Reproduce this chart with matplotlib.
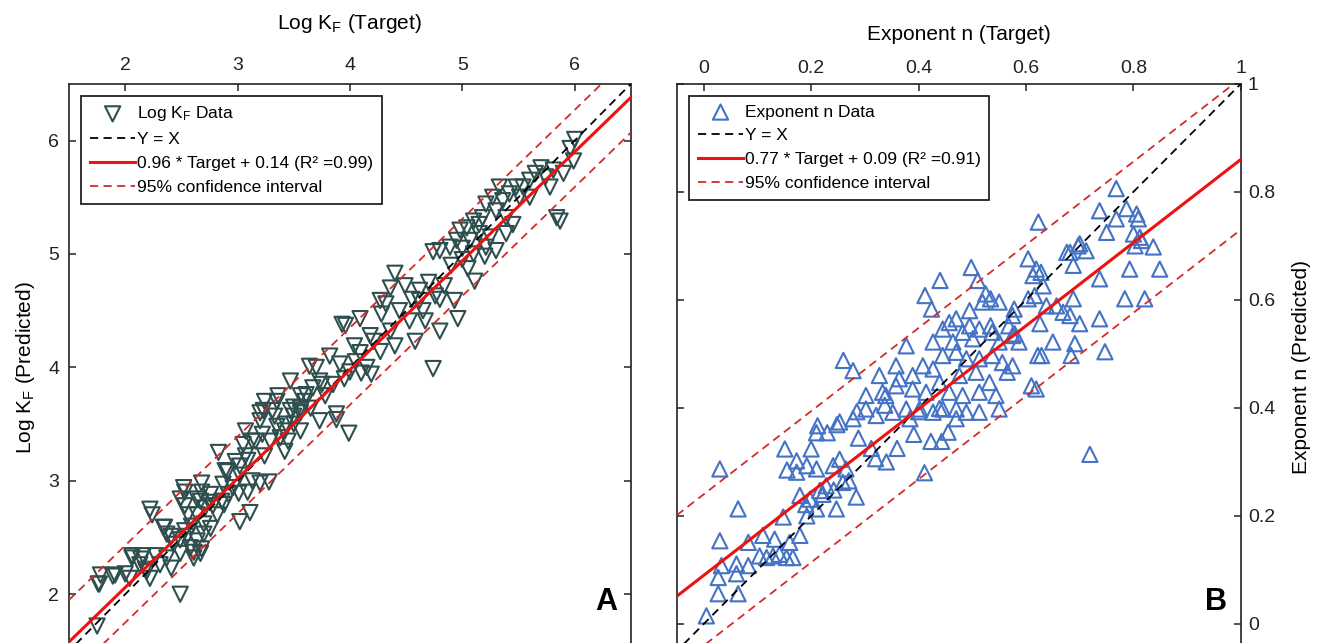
import numpy as np
import matplotlib.pyplot as plt

plt.rcParams['font.family'] = ['Liberation Sans', 'DejaVu Sans']
plt.rcParams['mathtext.fontset'] = 'custom'
plt.rcParams['mathtext.rm'] = 'Liberation Sans'
plt.rcParams['mathtext.it'] = 'Liberation Sans'

# ---- panel A : log KF (target, predicted) ----
kf_target = [1.75, 1.76, 1.78, 1.91, 2.04, 2.06, 2.16, 2.19, 2.27, 2.22, 2.13, 2.37, 2.41, 2.49, 2.22,
             2.24, 2.34, 2.37, 2.43, 2.41, 2.49, 2.49, 2.55, 2.58, 2.61, 2.67, 2.52, 2.53, 2.56, 2.64,
             2.64, 2.70, 2.71, 2.76, 2.78, 2.82, 2.86, 2.87, 2.92, 2.96, 3.02, 3.11, 2.70, 2.64, 2.31,
             3.99, 3.88, 3.73, 3.65, 3.56, 3.50, 3.43, 3.35, 3.31, 3.20, 3.22, 3.13, 3.05, 2.83, 3.09,
             2.98, 2.91, 3.02, 3.13, 3.20, 3.28, 3.09, 3.01, 2.75, 2.88, 2.68, 2.68, 2.59, 2.53, 2.35,
             2.49, 2.53, 2.67, 2.76, 2.61, 2.68, 2.06, 2.14, 2.18, 2.00, 1.89, 1.77,
             3.93, 3.70, 3.82, 3.91, 4.00, 3.67, 3.75, 3.36, 3.50, 3.23, 3.61, 3.56, 3.88, 4.21, 4.27,
             4.15, 4.19, 4.32, 4.36, 4.28, 4.09,
             6.00, 5.96, 5.99, 5.90, 5.81, 5.70, 5.65, 5.74, 5.78, 5.87, 5.84, 5.60, 5.54, 5.48, 5.51,
             5.42, 5.60, 5.36, 5.33, 5.27, 5.21, 5.30, 5.39, 5.45, 5.18, 5.15, 5.10, 5.04, 4.98, 4.95,
             5.07, 5.21, 5.30, 4.80, 4.74, 4.89, 5.39, 5.15,
             4.40, 4.49, 4.62, 4.76, 4.84, 4.93, 4.67, 4.53, 4.44, 4.36, 4.27, 4.18, 4.04, 4.40, 4.58,
             4.74, 4.80, 4.96, 5.05, 5.11, 4.62, 4.09, 3.96,
             3.33, 3.47, 3.60, 3.56, 3.42, 3.29, 3.16, 3.42, 3.24, 3.56, 3.73, 3.78, 3.07, 3.02, 2.89,
             3.20, 3.07, 3.24, 3.47, 3.64,
             5.00, 5.10, 5.20, 4.90, 5.25, 5.00, 4.55, 4.70, 4.65, 4.80, 3.85, 3.95, 4.05, 4.10, 3.38,
             3.50, 3.45, 3.35]
kf_pred = [1.72, 2.09, 2.17, 2.17, 2.14, 2.34, 2.34, 2.20, 2.34, 2.14, 2.26, 2.32, 2.23, 2.00, 2.75,
           2.70, 2.59, 2.53, 2.44, 2.51, 2.48, 2.36, 2.51, 2.41, 2.32, 2.36, 2.94, 2.78, 2.70, 2.84,
           2.70, 2.62, 2.76, 2.88, 2.78, 2.70, 2.82, 2.97, 2.88, 2.94, 2.64, 2.72, 2.53, 2.47, 2.26,
           3.42, 3.54, 3.53, 3.64, 3.64, 3.57, 3.50, 3.70, 3.62, 3.60, 3.41, 3.35, 3.32, 3.25, 3.18,
           3.17, 3.08, 3.05, 3.00, 2.98, 2.99, 2.90, 2.89, 2.81, 2.79, 2.90, 2.98, 2.60, 2.56, 2.59,
           2.84, 2.90, 2.82, 2.58, 2.37, 2.40, 2.32, 2.31, 2.22, 2.18, 2.16, 2.09,
           4.38, 4.00, 4.10, 4.03, 3.96, 3.82, 3.85, 3.75, 3.65, 3.62, 3.76, 3.60, 3.59, 4.23, 4.14,
           4.00, 3.94, 4.56, 4.70, 4.47, 4.13,
           6.01, 5.93, 5.82, 5.71, 5.74, 5.76, 5.71, 5.68, 5.59, 5.29, 5.32, 5.65, 5.59, 5.59, 5.50,
           5.53, 5.50, 5.47, 5.59, 5.50, 5.44, 5.38, 5.32, 5.26, 5.32, 5.26, 5.29, 5.23, 5.21, 5.12,
           5.12, 5.06, 5.03, 5.03, 5.02, 5.06, 5.18, 5.18,
           4.83, 4.72, 4.59, 4.63, 4.72, 4.59, 4.41, 4.41, 4.50, 4.32, 4.59, 4.28, 4.19, 4.19, 4.23,
           3.99, 4.32, 4.43, 4.87, 4.76, 4.68, 4.43, 4.37,
           3.57, 3.62, 3.70, 3.44, 3.44, 3.35, 3.35, 3.26, 3.22, 3.75, 3.88, 3.75, 3.22, 3.13, 3.09,
           3.53, 3.44, 3.70, 3.88, 4.01,
           4.95, 5.00, 4.98, 4.90, 5.15, 5.05, 4.60, 4.75, 4.50, 4.60, 3.85, 3.90, 4.05, 3.95, 3.38,
           3.50, 3.35, 3.48]
kf_fit = [0.96, 0.14]          # slope, intercept
kf_ci = [0.51, -0.17]          # intercepts of upper / lower 95% lines

# ---- panel B : exponent n (target, predicted) ----
n_target = [0.005, 0.027, 0.064, 0.027, 0.033, 0.061, 0.061, 0.083, 0.104, 0.117, 0.129, 0.141, 0.154,
            0.166, 0.160, 0.132, 0.110, 0.179, 0.083, 0.030, 0.064, 0.030, 0.148, 0.192, 0.210, 0.198,
            0.222, 0.179, 0.173, 0.151, 0.200, 0.173, 0.192, 0.210, 0.247, 0.284, 0.259, 0.241, 0.253,
            0.228, 0.216, 0.265,
            0.719, 0.411, 0.470, 0.455, 0.443, 0.423, 0.391, 0.360, 0.340, 0.320, 0.312, 0.288, 0.248,
            0.230, 0.210, 0.155, 0.285, 0.337, 0.384, 0.400, 0.439, 0.270, 0.242, 0.190,
            0.623, 0.604, 0.619, 0.628, 0.613, 0.632, 0.616, 0.604, 0.638, 0.657, 0.669, 0.682, 0.688,
            0.676, 0.697, 0.688, 0.650, 0.629, 0.622, 0.684, 0.610, 0.619, 0.498, 0.440, 0.412, 0.424,
            0.510, 0.525, 0.534, 0.550, 0.519, 0.578, 0.575, 0.495, 0.470, 0.457, 0.445, 0.495, 0.482,
            0.513, 0.534, 0.537, 0.568, 0.575, 0.587, 0.550, 0.501, 0.464, 0.427, 0.377, 0.470, 0.445,
            0.489, 0.513, 0.537, 0.556, 0.575, 0.565, 0.507, 0.476, 0.427, 0.408, 0.389, 0.358, 0.364,
            0.327, 0.260, 0.278, 0.333, 0.302, 0.339, 0.358, 0.389, 0.414, 0.439, 0.457, 0.482, 0.513,
            0.532, 0.544, 0.470, 0.445, 0.427, 0.402, 0.377, 0.352, 0.321, 0.302, 0.278, 0.253, 0.212,
            0.489, 0.513, 0.550,
            0.768, 0.737, 0.768, 0.787, 0.806, 0.809, 0.750, 0.800, 0.812, 0.803, 0.837, 0.815, 0.682,
            0.700, 0.712,
            0.737, 0.793, 0.821, 0.784, 0.737, 0.691, 0.700, 0.747, 0.626, 0.579, 0.849]
n_pred = [0.015, 0.056, 0.056, 0.086, 0.108, 0.093, 0.111, 0.108, 0.126, 0.123, 0.126, 0.129, 0.123,
          0.123, 0.151, 0.157, 0.164, 0.164, 0.151, 0.154, 0.213, 0.287, 0.198, 0.200, 0.213, 0.231,
          0.240, 0.238, 0.281, 0.324, 0.324, 0.302, 0.293, 0.287, 0.213, 0.235, 0.262, 0.293, 0.305,
          0.256, 0.247, 0.287,
          0.314, 0.280, 0.380, 0.355, 0.338, 0.338, 0.351, 0.325, 0.300, 0.306, 0.325, 0.344, 0.369,
          0.354, 0.354, 0.285, 0.393, 0.405, 0.380, 0.393, 0.399, 0.265, 0.248, 0.221,
          0.744, 0.676, 0.657, 0.651, 0.645, 0.626, 0.608, 0.602, 0.589, 0.589, 0.577, 0.571, 0.602,
          0.688, 0.700, 0.664, 0.522, 0.497, 0.497, 0.497, 0.441, 0.435, 0.660, 0.636, 0.608, 0.583,
          0.636, 0.611, 0.602, 0.596, 0.596, 0.583, 0.571, 0.580, 0.565, 0.558, 0.546, 0.552, 0.540,
          0.546, 0.552, 0.540, 0.552, 0.534, 0.522, 0.522, 0.528, 0.522, 0.522, 0.515, 0.503, 0.497,
          0.491, 0.491, 0.497, 0.484, 0.478, 0.466, 0.466, 0.460, 0.472, 0.478, 0.460, 0.478, 0.454,
          0.460, 0.488, 0.469, 0.429, 0.423, 0.423, 0.441, 0.435, 0.429, 0.447, 0.429, 0.423, 0.429,
          0.447, 0.423, 0.398, 0.398, 0.392, 0.398, 0.398, 0.392, 0.386, 0.398, 0.380, 0.374, 0.367,
          0.392, 0.392, 0.398,
          0.806, 0.765, 0.750, 0.769, 0.759, 0.750, 0.725, 0.722, 0.716, 0.700, 0.698, 0.710, 0.688,
          0.704, 0.691,
          0.639, 0.657, 0.602, 0.602, 0.565, 0.519, 0.556, 0.504, 0.556, 0.537, 0.657]
n_fit = [0.77, 0.09]
n_ci = [0.24, -0.04]

kf_color = '#2f4f4f'
n_color = '#4472c4'
fit_color = '#ee1111'
ci_color = '#d42a2a'

fig = plt.figure(figsize=(13.22, 6.43), dpi=100)
ax1 = fig.add_axes([0.0522, -0.0124, 0.425, 0.882])
ax2 = fig.add_axes([0.512, -0.0124, 0.4266, 0.882])


def draw_panel(ax, xt, yp, lims, fit, ci, marker, mcolor, data_label, fit_label, letter):
    xs = np.array(lims)
    ax.scatter(xt, yp, marker=marker, s=120, facecolors='none', edgecolors=mcolor,
               linewidths=1.5, label=data_label, zorder=2)
    ax.plot(xs, xs, '--', color='black', lw=1.3, dashes=(4.5, 3), label='Y = X', zorder=3)
    ax.plot(xs, fit[0] * xs + fit[1], '-', color=fit_color, lw=2.2, label=fit_label, zorder=4)
    ax.plot(xs, fit[0] * xs + ci[0], '--', color=ci_color, lw=1.3, dashes=(4.5, 3),
            label='95% confidence interval', zorder=3)
    ax.plot(xs, fit[0] * xs + ci[1], '--', color=ci_color, lw=1.3, dashes=(4.5, 3), zorder=3)
    ax.set_xlim(lims)
    ax.set_ylim(lims)
    ax.tick_params(direction='in', length=5, width=1.1, labelsize=14, pad=7, top=True,
                   right=True, bottom=True, left=True, colors='#222222')
    for s in ax.spines.values():
        s.set_linewidth(1.2)
        s.set_color('#222222')
    ax.text(0.975, 0.06, letter, transform=ax.transAxes, fontsize=22, fontweight='bold',
            ha='right', va='bottom')
    leg = ax.legend(loc='upper left', bbox_to_anchor=(0.022, 0.979), borderaxespad=0,
                    fontsize=12.5, handlelength=2.6, handletextpad=0.1, labelspacing=0.5,
                    fancybox=False, framealpha=1, edgecolor='#222222', borderpad=0.5,
                    scatterpoints=1)
    leg.get_frame().set_linewidth(1.3)


draw_panel(ax1, kf_target, kf_pred, [1.5, 6.5], kf_fit, kf_ci, 'v', kf_color,
           r'Log K$_{\rm F}$ Data', '0.96 * Target + 0.14 (R² =0.99)', 'A')
ax1.set_xticks([2, 3, 4, 5, 6])
ax1.set_yticks([2, 3, 4, 5, 6])
ax1.tick_params(labelbottom=False, labeltop=True, labelleft=True, labelright=False)
ax1.xaxis.set_label_position('top')
ax1.set_xlabel(r'Log K$_{\rm F}$ (Target)', fontsize=15, labelpad=20)
ax1.set_ylabel(r'Log K$_{\rm F}$ (Predicted)', fontsize=15, labelpad=8)

draw_panel(ax2, n_target, n_pred, [-0.05, 1.0], n_fit, n_ci, '^', n_color,
           'Exponent n Data', '0.77 * Target + 0.09 (R² =0.91)', 'B')
ax2.set_xticks([0, 0.2, 0.4, 0.6, 0.8, 1])
ax2.set_yticks([0, 0.2, 0.4, 0.6, 0.8, 1])
ax2.set_xticklabels(['0', '0.2', '0.4', '0.6', '0.8', '1'])
ax2.set_yticklabels(['0', '0.2', '0.4', '0.6', '0.8', '1'])
ax2.tick_params(labelbottom=False, labeltop=True, labelleft=False, labelright=True, pad=5)
ax2.xaxis.set_label_position('top')
ax2.yaxis.set_label_position('right')
ax2.set_xlabel('Exponent n (Target)', fontsize=15, labelpad=14)
ax2.set_ylabel('Exponent n (Predicted)', fontsize=15, labelpad=12)

fig.savefig('out.png', dpi=100, facecolor='white')
